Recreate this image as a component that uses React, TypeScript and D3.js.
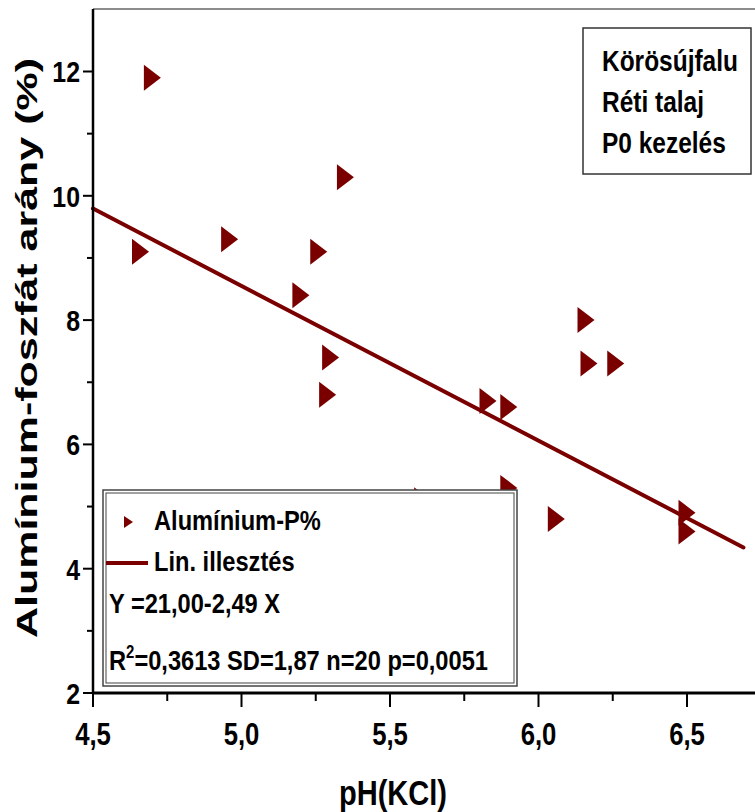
import React from "react";
import * as d3 from "d3";

const phValues = [4.70, 4.66, 4.96, 5.26, 5.20, 5.35, 5.30, 5.29, 6.16, 6.17, 6.26, 5.83, 5.90, 5.90, 5.61, 6.06, 6.50, 6.50];
const alPValues = [11.9, 9.1, 9.3, 9.1, 8.4, 10.3, 7.4, 6.8, 8.0, 7.3, 7.3, 6.7, 6.6, 5.3, 5.1, 4.8, 4.9, 4.6];
const xTicks = [4.5, 5.0, 5.5, 6.0, 6.5];
const xMinorTicks = [4.75, 5.25, 5.75, 6.25, 6.75];
const yTicks = [2, 4, 6, 8, 10, 12];
const yMinorTicks = [3, 5, 7, 9, 11];
const fitIntercept = 21.0;
const fitSlope = -2.49;
const fitRange = [4.5, 6.69];
const infoLines = ["Körösújfalu", "Réti talaj", "P0 kezelés"];

const W = 755;
const H = 812;
const RED = "#7a0000";
const FONT = "'Liberation Sans', Arial, sans-serif";
const SX = 0.83;

function NText(props: { x: number; y: number; size: number; anchor?: string; dy?: string; children: React.ReactNode }) {
  const { x, y, size, anchor, dy, children } = props;
  return (
    <text
      transform={`translate(${x},${y}) scale(${SX},1)`}
      textAnchor={anchor || "start"}
      dy={dy}
      fontFamily={FONT}
      fontWeight="bold"
      fontSize={size}
      fill="#000"
    >
      {children}
    </text>
  );
}

export default function App() {
  const left = 93, right = 755, top = 9, bottom = 693;
  const x = d3.scaleLinear().domain([4.5, 4.5 + (right - left) / 297]).range([left, right]);
  const y = d3.scaleLinear().domain([2, 2 + (bottom - top) / 62.15]).range([bottom, top]);
  const fmt = (v: number) => d3.format(".1f")(v).replace(".", ",");
  const fitLine = d3.line<number>().x((d) => x(d)).y((d) => y(fitIntercept + fitSlope * d));
  const tri = (cx: number, cy: number, w: number, h: number) =>
    `M${cx - w / 2},${cy - h / 2}L${cx + w / 2},${cy}L${cx - w / 2},${cy + h / 2}Z`;

  return (
    <svg width={W} height={H} style={{ position: "absolute", left: 0, top: 0, background: "#fff" }}>
      <rect x={0} y={0} width={W} height={H} fill="#fff" />
      <line x1={left} x2={right} y1={top} y2={top} stroke="#666" strokeWidth={1.5} />
      <path d={fitLine(fitRange) || ""} stroke={RED} strokeWidth={4} fill="none" strokeLinecap="round" />
      {phValues.map((p, i) => (
        <path key={i} d={tri(x(p), y(alPValues[i]), 17, 26)} fill={RED} />
      ))}
      {/* legend box */}
      <rect x={103} y={490} width={414} height={196} fill="#fff" stroke="#444" strokeWidth={1.5} />
      <rect x={106} y={493} width={408} height={190} fill="none" stroke="#444" strokeWidth={1} />
      <path d={tri(128.5, 522, 9, 12)} fill={RED} />
      <NText x={154} y={530} size={28.5}>Alumínium-P%</NText>
      <line x1={106} x2={148} y1={563} y2={563} stroke={RED} strokeWidth={4} />
      <NText x={154} y={571} size={28.5}>Lin. illesztés</NText>
      <NText x={109} y={613} size={28.5}>Y =21,00-2,49 X</NText>
      <NText x={109} y={670} size={28.5}>
        R<tspan dy={-12} fontSize={18}>2</tspan><tspan dy={12}>=0,3613 SD=1,87 n=20 p=0,0051</tspan>
      </NText>
      {/* info box */}
      <rect x={583} y={28} width={168} height={146} fill="#fff" stroke="#333" strokeWidth={1.5} />
      {infoLines.map((t, i) => (
        <NText key={t} x={602} y={71 + i * 41} size={29.5}>{t}</NText>
      ))}
      {/* axes */}
      <line x1={left} x2={left} y1={top} y2={bottom} stroke="#000" strokeWidth={2.5} />
      <line x1={left} x2={right} y1={bottom} y2={bottom} stroke="#000" strokeWidth={3} />
      {yTicks.map((t) => (
        <g key={t}>
          <line x1={left - 10} x2={left} y1={y(t)} y2={y(t)} stroke="#000" strokeWidth={2} />
          <NText x={left - 13} y={y(t)} dy="0.36em" anchor="end" size={30}>{t}</NText>
        </g>
      ))}
      {yMinorTicks.map((t) => (
        <line key={t} x1={left - 6} x2={left} y1={y(t)} y2={y(t)} stroke="#000" strokeWidth={2} />
      ))}
      {xTicks.map((t) => (
        <g key={t}>
          <line x1={x(t)} x2={x(t)} y1={bottom} y2={bottom + 14} stroke="#000" strokeWidth={2} />
          <NText x={x(t)} y={745} anchor="middle" size={31}>{fmt(t)}</NText>
        </g>
      ))}
      {xMinorTicks.map((t) => (
        <line key={t} x1={x(t)} x2={x(t)} y1={bottom} y2={bottom + 8} stroke="#000" strokeWidth={2} />
      ))}
      <NText x={393} y={805} anchor="middle" size={35}>pH(KCl)</NText>
      <text transform="translate(37,348) rotate(-90)" textAnchor="middle" fontFamily={FONT} fontWeight="bold" fontSize={29} textLength={580} lengthAdjust="spacingAndGlyphs">Alumínium-foszfát arány (%)</text>
    </svg>
  );
}
